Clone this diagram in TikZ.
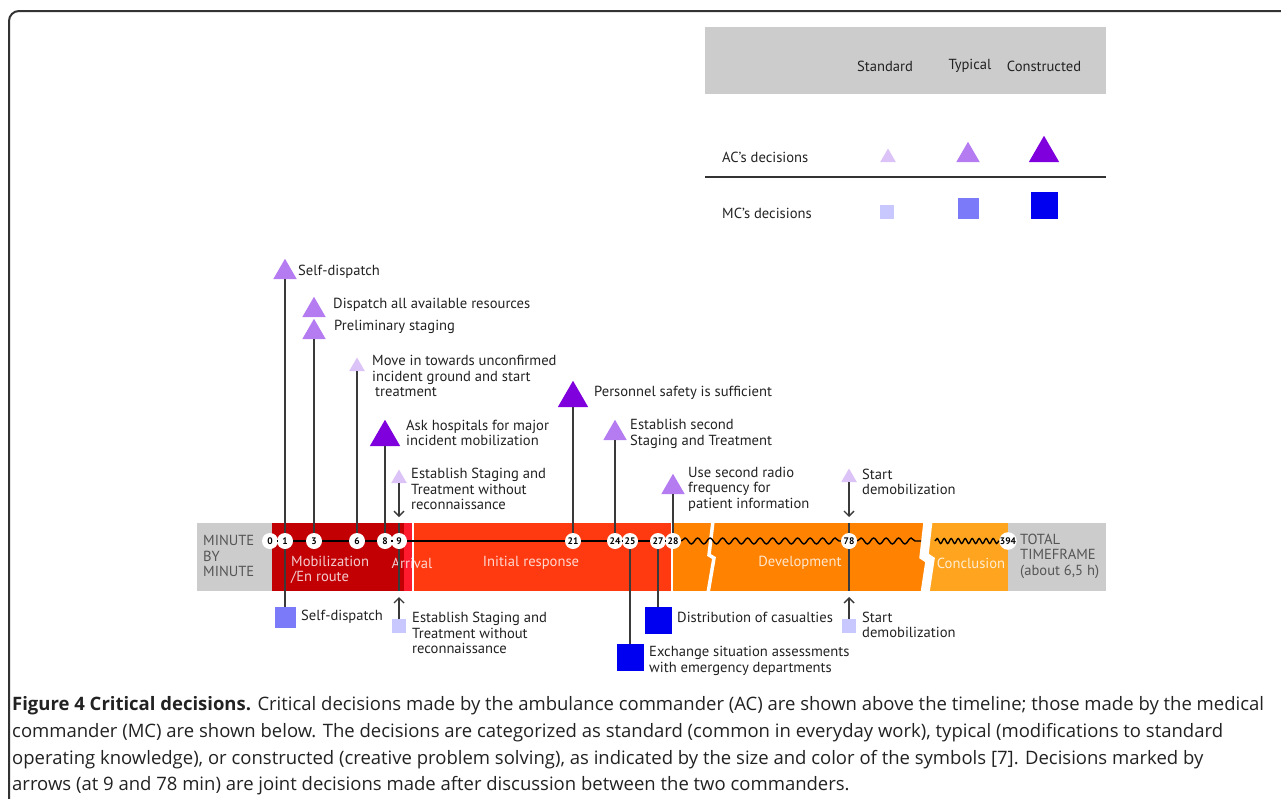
\documentclass[tikz,border=0pt]{standalone}
\usepackage{fontspec}
\setmainfont{PT Sans}
\newfontfamily\capfont{Open Sans}
\usepackage{tikz}
\usetikzlibrary{shapes.geometric,arrows.meta,decorations.pathmorphing}

\definecolor{frameGray}{HTML}{333333}
\definecolor{barGray}{HTML}{CCCCCC}
\definecolor{mobRed}{HTML}{C20004}
\definecolor{arrRed}{HTML}{FF1A2E}
\definecolor{initRed}{HTML}{FF3A10}
\definecolor{devOrange}{HTML}{FF8200}
\definecolor{conOrange}{HTML}{FFA41E}
\definecolor{acStd}{HTML}{DCC3F7}
\definecolor{acTyp}{HTML}{B57CF2}
\definecolor{acCon}{HTML}{7F00DD}
\definecolor{mcStd}{HTML}{C8C8FF}
\definecolor{mcTyp}{HTML}{7B7BFA}
\definecolor{mcCon}{HTML}{0000F0}
\definecolor{stemGray}{HTML}{3A3A3A}
\definecolor{txtBlack}{HTML}{222222}
\definecolor{txtGray}{HTML}{555555}

\begin{document}
\begin{tikzpicture}[x=1pt,y=-1pt,>={Straight Barb[length=5,width=10]},
	tri/.style={regular polygon,regular polygon sides=3,inner sep=0pt,outer sep=0pt,anchor=side 2},
	std tri/.style={tri,minimum size=18,fill=acStd},
	typ tri/.style={tri,minimum size=27,fill=acTyp},
	con tri/.style={tri,minimum size=35,fill=acCon},
	sq/.style={rectangle,inner sep=0pt,outer sep=0pt},
	std sq/.style={sq,minimum size=14,fill=mcStd},
	typ sq/.style={sq,minimum size=21,fill=mcTyp},
	con sq/.style={sq,minimum size=27,fill=mcCon},
	tick/.style={circle,fill=white,inner sep=0pt,minimum size=16,font=\bfseries\fontsize{9.5}{9.5}\selectfont},
	stem/.style={line width=1.4pt,draw=stemGray},
	lbl/.style={anchor=west,align=left,inner sep=0pt,text=txtBlack},
	barlbl/.style={text=white,text opacity=0.8},
	sidelbl/.style={anchor=west,align=left,inner sep=0pt,text=txtGray}]
	\tikzstyle{every node}=[font=\fontsize{14.6}{15.5}\selectfont]
	\useasboundingbox (0,0) rectangle (1281,798);

	\draw[line width=2pt,frameGray,rounded corners=10] (9,830) |- (1300,11);

	% legend
	\fill[barGray] (705,27) rectangle (1106,94);
	\draw (885,66) node(hStd) [text=txtBlack] {Standard}
		(970,66) node(hTyp) [text=txtBlack] {Typical}
		(1044,66) node(hCon) [text=txtBlack] {Constructed}
		(722,157) node(hAC) [lbl] {AC's decisions}
		(722,213) node(hMC) [lbl] {MC's decisions};
	\draw[line width=1.5pt,frameGray] (705,177) -- (1106,177);
	\draw (888,162) node(legT1) [std tri] {}
		(968,162) node(legT2) [typ tri] {}
		(1044,162) node(legT3) [con tri] {}
		(887,219) node(legS1) [std sq,anchor=south] {}
		(968,219) node(legS2) [typ sq,anchor=south] {}
		(1044,219) node(legS3) [con sq,anchor=south] {};

	% timeline bar
	\coordinate (bartop) at (0,523);
	\coordinate (barbot) at (0,591);
	\coordinate (devend) at (921,541);
	\coordinate (conbeg) at (935,541);
	\fill[barGray] (197,523) rectangle (272,591);
	\fill[mobRed] (272,523) rectangle (404,591);
	\fill[arrRed] (404,523) rectangle (413,591);
	\fill[initRed] (413,523) rectangle (672,591);
	\fill[devOrange] (672,523) rectangle (926,591);
	\fill[conOrange] (926,523) rectangle (1008,591);
	\fill[barGray] (1008,523) rectangle (1106,591);
	\draw[white,line width=1.5pt] (413,523) -- (413,591);
	\draw[white,line width=1.2pt] (672,523) -- (672,591);
	\draw[white,line width=3.5pt] (713,521) -- (709,555) -- (714,558) -- (708,593);
	\draw[white,line width=9pt] (928,521) -- (924,556) -- (930,560) -- (925,593);

	\draw (203,556) node(mbm) [sidelbl] {MINUTE\\BY\\MINUTE}
		(291,570) node(lMob) [lbl,barlbl] {Mobilization\\/En route}
		(412,563) node(lArr) [barlbl] {Arrival}
		(531,563) node(lInit) [barlbl] {Initial response}
		(800,563) node(lDev) [barlbl] {Development}
		(971,563) node(lCon) [barlbl] {Conclusion}
		(1020,556) node(tot) [sidelbl] {TOTAL\\TIMEFRAME\\(about 6,5 h)};

	% minutes
	\draw (270,541) node(m0) [tick] {0}
		(285,541) node(m1) [tick] {1}
		(314,541) node(m3) [tick] {3}
		(357,541) node(m6) [tick] {6}
		(385,541) node(m8) [tick] {8}
		(399,541) node(m9) [tick] {9}
		(573,541) node(m21) [tick] {21}
		(615,541) node(m24) [tick] {24}
		(630,541) node(m25) [tick] {25}
		(658,541) node(m27) [tick] {27}
		(673,541) node(m28) [tick] {28}
		(849,541) node(m78) [tick] {78}
		(1008,541) node(m394) [tick] {394};

	% AC decisions
	\draw (285,279) node(t1) [typ tri] {}
		(314,317) node(t3a) [typ tri] {}
		(314,339) node(t3b) [typ tri] {}
		(357,371) node(t6) [std tri] {}
		(385,446) node(t8) [con tri] {}
		(399,483) node(t9) [std tri] {}
		(573,407) node(t21) [con tri] {}
		(615,440) node(t24) [typ tri] {}
		(673,494) node(t28) [typ tri] {}
		(849,482) node(t78) [std tri] {};
	\draw (298,272) node(a1) [lbl] {Self-dispatch}
		(333,305) node(a3a) [lbl] {Dispatch all available resources}
		(334,327) node(a3b) [lbl] {Preliminary staging}
		(372,376) node(a6) [lbl] {Move in towards unconfirmed\\incident ground and start\\\hspace{3pt}treatment}
		(406,433) node(a8) [lbl] {Ask hospitals for major\\incident mobilization}
		(411,489) node(a9) [lbl] {Establish Staging and\\Treatment without\\reconnaissance}
		(594,393) node(a21) [lbl] {Personnel safety is sufficient}
		(630,434) node(a24) [lbl] {Establish second\\Staging and Treatment}
		(688,489) node(a28) [lbl] {Use second radio\\frequency for\\patient information}
		(862,482) node(a78) [lbl] {Start\\demobilization};

	% MC decisions
	\draw (285,617) node(s1) [typ sq] {}
		(399,626) node(s9) [std sq] {}
		(630,657) node(s25) [con sq] {}
		(658,620) node(s27) [con sq] {}
		(849,626) node(s78) [std sq] {};
	\draw (301,617) node(b1) [lbl] {Self-dispatch}
		(412,633) node(b9) [lbl] {Establish Staging and\\Treatment without\\reconnaissance}
		(649,661) node(b25) [lbl] {Exchange situation assessments\\with emergency departments}
		(677,617) node(b27) [lbl] {Distribution of casualties}
		(862,625) node(b78) [lbl] {Start\\demobilization};

	\draw[line width=1.4pt] (m0) -- (m1) -- (m3) -- (m6) -- (m8) -- (m9) -- (m21) -- (m24) -- (m25) -- (m27) -- (m28);
	\draw[line width=1.4pt,decorate,decoration={snake,amplitude=3,segment length=12.5}] (m28) -- (m78);
	\draw[line width=1.4pt,decorate,decoration={snake,amplitude=3,segment length=12.5}] (m78) -- (devend);
	\draw[line width=1.4pt,decorate,decoration={snake,amplitude=2.5,segment length=7}] (conbeg) -- (m394);

	\draw[stem] (t1.side 2) -- (m1);
	\draw[stem] (m1) -- (s1.north);
	\draw[stem] (t3b.side 2) -- (m3);
	\draw[stem] (t6.side 2) -- (m6);
	\draw[stem] (t8.side 2) -- (m8);
	\draw[stem,->,shorten >=6pt] (t9.side 2) -- (m9 |- bartop);
	\draw[stem] (m9 |- bartop) -- (m9) (m9) -- (m9 |- barbot);
	\draw[stem,->,shorten >=6pt] (s9.north) -- (m9 |- barbot);
	\draw[stem] (t21.side 2) -- (m21);
	\draw[stem] (t24.side 2) -- (m24);
	\draw[stem] (m25) -- (s25.north);
	\draw[stem] (m27) -- (s27.north);
	\draw[stem] (t28.side 2) -- (m28);
	\draw[stem,->,shorten >=6pt] (t78.side 2) -- (m78 |- bartop);
	\draw[stem] (m78 |- bartop) -- (m78) (m78) -- (m78 |- barbot);
	\draw[stem,->,shorten >=6pt] (s78.north) -- (m78 |- barbot);

	% caption
	\draw (12,746) node(cap) [anchor=west,align=left,inner sep=0pt,text=txtBlack,font=\capfont\fontsize{18.5}{26.7}\selectfont]
		{\textbf{Figure 4 Critical decisions.} Critical decisions made by the ambulance commander (AC) are shown above the timeline; those made by the medical\\
		commander (MC) are shown below. The decisions are categorized as standard (common in everyday work), typical (modifications to standard\\
		operating knowledge), or constructed (creative problem solving), as indicated by the size and color of the symbols [7]. Decisions marked by\\
		arrows (at 9 and 78 min) are joint decisions made after discussion between the two commanders.};
\end{tikzpicture}
\end{document}
